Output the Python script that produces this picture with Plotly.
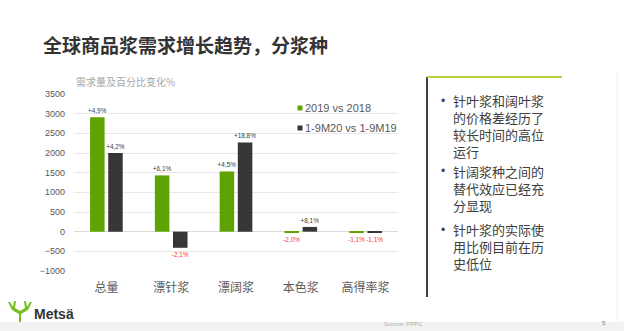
import plotly.graph_objects as go

W, H = 624, 331

categories = ["总量", "漂针浆", "漂阔浆", "本色浆", "高得率浆"]
series_names = ["2019 vs 2018", "1-9M20 vs 1-9M19"]
values_2019 = [2910, 1430, 1530, -20, -25]
values_2020 = [2000, -410, 2270, 120, -25]
labels_2019 = ["+4,9%", "+6,1%", "+4,5%", "-2,0%", "-1,1%"]
labels_2020 = ["+4,2%", "-2,1%", "+18,8%", "+8,1%", "-1,1%"]
y_ticks = [-1000, -500, 0, 500, 1000, 1500, 2000, 2500, 3000, 3500]
title_text = "全球商品浆需求增长趋势，分浆种"
subtitle_text = "需求量及百分比变化%"
bullets = [
    ["针叶浆和阔叶浆", "的价格差经历了", "较长时间的高位", "运行"],
    ["针阔浆种之间的", "替代效应已经充", "分显现"],
    ["针叶浆的实际使", "用比例目前在历", "史低位"],
]
source_text = "Source: PPPC"
page_no = "5"
brand = "Metsä"

GREEN = "#5fa300"
DARK = "#363636"
RED = "#f03c3c"
TXT = "#404040"
FONT = "Liberation Sans, Noto Sans CJK SC, sans-serif"
CJK = "Noto Sans CJK SC, sans-serif"


def px(x):
    return x / W


def py(y):
    return 1 - y / H


def lab_colors(vals):
    return [RED if v < 0 else TXT for v in vals]


fig = go.Figure()
for name, vals, labs, col in [
    (series_names[0], values_2019, labels_2019, GREEN),
    (series_names[1], values_2020, labels_2020, DARK),
]:
    fig.add_trace(go.Bar(
        x=categories, y=vals, name=name, marker=dict(color=col, line=dict(width=0)),
        text=labs, textposition="outside", cliponaxis=False, constraintext="none",
        textfont=dict(size=6.4, color=lab_colors(vals), family=FONT),
        showlegend=False,
    ))

shapes = []
annotations = []

# legend (manual)
for i, (name, col) in enumerate(zip(series_names, [GREEN, DARK])):
    yc = 108 + 20 * i
    shapes.append(dict(type="rect", xref="paper", yref="paper",
                       x0=px(297.5), x1=px(302.5), y0=py(yc + 2.5), y1=py(yc - 2.5),
                       fillcolor=col, line=dict(width=0)))
    annotations.append(dict(text=name, xref="paper", yref="paper", x=px(303), y=py(yc),
                            xanchor="left", yanchor="middle", showarrow=False,
                            font=dict(size=11, color="#595959", family=FONT)))

# title and subtitle
annotations.append(dict(text=title_text, xref="paper", yref="paper", x=px(41), y=py(44),
                        xanchor="left", yanchor="middle", showarrow=False,
                        font=dict(size=19, color="#333333", family=CJK, weight="bold")))
annotations.append(dict(text=subtitle_text, xref="paper", yref="paper", x=px(74), y=py(82),
                        xanchor="left", yanchor="middle", showarrow=False,
                        font=dict(size=10, color="#a6a6a6", family=CJK)))

# right panel
shapes.append(dict(type="line", xref="paper", yref="paper", x0=px(427), x1=px(427),
                   y0=py(77), y1=py(297), line=dict(color="#404040", width=2)))
shapes.append(dict(type="line", xref="paper", yref="paper", x0=px(427), x1=px(562),
                   y0=py(77), y1=py(77), line=dict(color="#b4d23a", width=2)))
shapes.append(dict(type="line", xref="paper", yref="paper", x0=px(617), x1=px(617),
                   y0=py(70), y1=py(322), line=dict(color="#f0f0f0", width=1)))

BSIZE = 13
spacing = BSIZE * 1.3
centers = [125.9, 188.3, 246.7]
for b, yc in zip(bullets, centers):
    first = yc - (len(b) - 1) / 2 * spacing
    annotations.append(dict(text="•", xref="paper", yref="paper", x=px(440), y=py(first),
                            xanchor="left", yanchor="middle", showarrow=False, borderpad=0,
                            font=dict(size=12, color=TXT, family=FONT)))
    annotations.append(dict(text="<br>".join(b), xref="paper", yref="paper", x=px(452),
                            y=py(yc), xanchor="left", yanchor="middle", align="left",
                            showarrow=False, borderpad=0,
                            font=dict(size=BSIZE, color=TXT, family=CJK)))

# footer band
shapes.append(dict(type="rect", xref="paper", yref="paper", x0=0, x1=1, y0=0, y1=py(322),
                   fillcolor="#f2f2f2", line=dict(width=0), layer="below"))
annotations.append(dict(text=source_text, xref="paper", yref="paper", x=px(382), y=py(324),
                        xanchor="left", yanchor="middle", showarrow=False,
                        font=dict(size=6, color="#b0b0b0", family=FONT)))
annotations.append(dict(text=page_no, xref="paper", yref="paper", x=px(604), y=py(323),
                        xanchor="center", yanchor="middle", showarrow=False,
                        font=dict(size=6, color="#808080", family=FONT)))

# logo: antler icon + brand text
pts = [(19, 322), (19, 314), (12, 310), (8, 302), (10, 302), (13, 307), (14, 301), (16, 301),
       (15, 308), (20, 311), (25, 308), (24, 301), (26, 301), (27, 307), (30, 302), (32, 302),
       (28, 310), (21, 314), (21, 322)]
path = "M " + " L ".join(f"{px(x):.5f},{py(y):.5f}" for x, y in pts) + " Z"
shapes.append(dict(type="path", xref="paper", yref="paper", path=path,
                   fillcolor="#78be20", line=dict(width=0)))
annotations.append(dict(text=brand, xref="paper", yref="paper", x=px(32), y=py(314),
                        xanchor="left", yanchor="middle", showarrow=False,
                        font=dict(size=14, color="#333333", family=FONT, weight="bold")))

fig.update_layout(
    width=W, height=H, margin=dict(l=0, r=0, t=0, b=0),
    paper_bgcolor="white", plot_bgcolor="white",
    barmode="group", bargap=0.44, bargroupgap=0.2,
    shapes=shapes, annotations=annotations,
    xaxis=dict(domain=[px(74), px(398)], showgrid=False, zeroline=False, showline=False,
               ticks="", tickfont=dict(size=12, color="#595959", family=CJK),
               ticklabelstandoff=8, automargin=False),
    yaxis=dict(domain=[py(271), py(94)], range=[-1000, 3500], tickvals=y_ticks,
               showgrid=True, gridcolor="#e8e8e8", gridwidth=1,
               zeroline=True, zerolinecolor="#d9d9d9", zerolinewidth=1, showline=False,
               ticks="", tickfont=dict(size=9, color="#595959", family=FONT),
               ticklabelstandoff=8, automargin=False),
    font=dict(family=FONT),
)

fig.write_html("out.html")
